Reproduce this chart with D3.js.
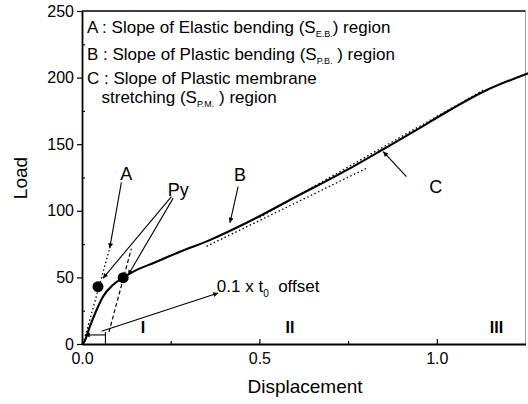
<!DOCTYPE html>
<html>
<head>
<meta charset="utf-8">
<script src="https://cdn.jsdelivr.net/npm/d3@7"></script>
<style>
  body { margin: 0; background: #fff; }
  text { font-family: "Liberation Sans", Arial, sans-serif; fill: #000; }
</style>
</head>
<body>
<svg id="chart" width="528" height="404"></svg>
<script>
// Load-displacement curve
var displacement = [0, 0.005, 0.022, 0.041, 0.059, 0.087, 0.116, 0.153, 0.2, 0.276, 0.36, 0.464, 0.595, 0.755, 0.849, 0.943, 1.037, 1.131, 1.26];
var load         = [0, 1, 13, 25.5, 35.5, 44.3, 49.8, 55.5, 60.6, 69.3, 78, 91, 109.4, 131.9, 146.2, 160.7, 175.7, 189.4, 203.5];

// Yield points (Py)
var yieldX = [0.045, 0.116];
var yieldY = [43, 49.8];

// Slope lines: [x1, y1, x2, y2] in data units
var slopeA      = [0.003, 0, 0.078, 71.8];     // elastic bending, dotted
var offsetLine  = [0.076, 9, 0.139, 71.5];     // 0.1 x t0 offset, dashed
var slopeB      = [0.351, 73.3, 0.807, 132.6]; // plastic bending, dotted
var slopeC      = [0.5, 95, 1.13, 190.5];      // plastic membrane, dotted

var xTicks = [0, 0.5, 1.0];
var xMinor = [0.25, 0.75];
var yTicks = [0, 50, 100, 150, 200, 250];
var yMinor = [25, 75, 125, 175, 225];

var svg = d3.select("#chart");
var margin = { left: 82, top: 11, bottom: 60 };
var W = 528, H = 404;

var x = d3.scaleLinear().domain([0, 1.25]).range([margin.left, 525.5]);
var y = d3.scaleLinear().domain([0, 250]).range([H - margin.bottom, margin.top]);

// Arrow head marker
svg.append("defs").append("marker")
	.attr("id", "head")
	.attr("viewBox", "0 0 10 10")
	.attr("refX", 10).attr("refY", 5)
	.attr("markerWidth", 9).attr("markerHeight", 5)
	.attr("markerUnits", "userSpaceOnUse")
	.attr("orient", "auto")
	.append("path")
	.attr("d", "M0,0L10,5L0,10Z")
	.attr("fill", "#000");

// Frame (top and right)
svg.append("line")
	.attr("x1", x(0)).attr("x2", x(1.25))
	.attr("y1", y(250)).attr("y2", y(250))
	.attr("stroke", "#000").attr("stroke-width", 1.6);
svg.append("line")
	.attr("x1", x(1.25)).attr("x2", x(1.25))
	.attr("y1", y(250)).attr("y2", y(0))
	.attr("stroke", "#888").attr("stroke-width", 0.8);

// Axes
var xAxis = svg.append("g")
	.attr("transform", "translate(0," + y(0) + ")")
	.call(d3.axisBottom(x).tickValues(xTicks).tickFormat(d3.format(".1f"))
		.tickSize(-5).tickSizeOuter(0).tickPadding(9));
svg.append("g")
	.attr("transform", "translate(0," + y(0) + ")")
	.call(d3.axisBottom(x).tickValues(xMinor).tickFormat("").tickSize(-3).tickSizeOuter(0))
	.select(".domain").remove();

var yAxis = svg.append("g")
	.attr("transform", "translate(" + x(0) + ",0)")
	.call(d3.axisLeft(y).tickValues(yTicks).tickSize(5).tickSizeOuter(0).tickPadding(3));
svg.append("g")
	.attr("transform", "translate(" + x(0) + ",0)")
	.call(d3.axisLeft(y).tickValues(yMinor).tickFormat("").tickSize(-3).tickSizeOuter(0))
	.select(".domain").remove();

svg.selectAll(".domain").attr("stroke-width", 1.8);
svg.selectAll(".tick line").attr("stroke-width", 1.2);
svg.selectAll(".tick text")
	.style("font-family", "'Liberation Sans', Arial, sans-serif")
	.style("font-size", "16px");

// Axis titles
svg.append("text")
	.attr("x", 305).attr("y", 393)
	.attr("text-anchor", "middle")
	.style("font-size", "19px")
	.text("Displacement");
svg.append("text")
	.attr("transform", "translate(27,178) rotate(-90)")
	.attr("text-anchor", "middle")
	.style("font-size", "19px")
	.text("Load");

// Slope lines
function segment(s, dash, width) {
	svg.append("line")
		.attr("x1", x(s[0])).attr("y1", y(s[1]))
		.attr("x2", x(s[2])).attr("y2", y(s[3]))
		.attr("stroke", "#000")
		.attr("stroke-width", width)
		.attr("stroke-dasharray", dash);
}
segment(slopeA, "1.5,2.5", 1.3);
segment(offsetLine, "4,2.5", 1.2);
segment(slopeB, "1.5,2.5", 1.3);
segment(slopeC, "1.5,2.5", 1.3);

// Main curve
var pts = displacement.map(function(d, i) { return [d, load[i]]; });
svg.append("path")
	.datum(pts)
	.attr("fill", "none")
	.attr("stroke", "#000")
	.attr("stroke-width", 2.1)
	.attr("d", d3.line()
		.x(function(d) { return x(d[0]); })
		.y(function(d) { return y(d[1]); })
		.curve(d3.curveMonotoneX));

// Yield points
svg.selectAll("circle.py")
	.data(yieldX)
	.enter().append("circle")
	.attr("class", "py")
	.attr("cx", function(d) { return x(d); })
	.attr("cy", function(d, i) { return y(yieldY[i]); })
	.attr("r", 5.5)
	.attr("fill", "#000");

// Annotation arrows: tail -> head, data units
var arrows = [
	[0.111, 121.4, 0.078, 71.8],   // A
	[0.252, 110.7, 0.059, 49.3],   // Py -> first point
	[0.257, 109.5, 0.130, 51.8],   // Py -> second point
	[0.440, 118.2, 0.417, 91],     // B
	[0.9145, 125.6, 0.849, 144.4], // C
	[0.055, 9.5, 0.384, 38.3],     // offset label
	[0.068, 6.8, 0.008, 6.8]       // offset width
];
svg.selectAll("line.arrow")
	.data(arrows)
	.enter().append("line")
	.attr("class", "arrow")
	.attr("x1", function(d) { return x(d[0]); })
	.attr("y1", function(d) { return y(d[1]); })
	.attr("x2", function(d) { return x(d[2]); })
	.attr("y2", function(d) { return y(d[3]); })
	.attr("stroke", "#000")
	.attr("stroke-width", 1.1)
	.attr("marker-end", "url(#head)");

// small end mark of the offset width
svg.append("line")
	.attr("x1", x(0.066)).attr("x2", x(0.066))
	.attr("y1", y(0)).attr("y2", y(9))
	.attr("stroke", "#000").attr("stroke-width", 1.1);

// Letters
var labels = [
	{ t: "A",  x: 0.125, y: 123,   a: "middle" },
	{ t: "B",  x: 0.445, y: 122.4, a: "middle" },
	{ t: "C",  x: 0.997, y: 113.4, a: "middle" },
	{ t: "Py", x: 0.242, y: 111,   a: "start" }
];
svg.selectAll("text.lab")
	.data(labels)
	.enter().append("text")
	.attr("class", "lab")
	.attr("x", function(d) { return x(d.x); })
	.attr("y", function(d) { return y(d.y); })
	.attr("text-anchor", function(d) { return d.a; })
	.style("font-size", "18px")
	.text(function(d) { return d.t; });

// 0.1 x t0 offset
var off = svg.append("text")
	.attr("x", x(0.38)).attr("y", y(39))
	.style("font-size", "17px");
off.append("tspan").text("0.1 x t");
off.append("tspan").attr("dy", 5).style("font-size", "10px").text("0");
off.append("tspan").attr("dy", -5).text("\u00a0 offset");

// Region numbers
var regions = ["I", "II", "III"];
var regionX = [0.172, 0.586, 1.168];
svg.selectAll("text.region")
	.data(regions)
	.enter().append("text")
	.attr("class", "region")
	.attr("x", function(d, i) { return x(regionX[i]); })
	.attr("y", y(8.5))
	.attr("text-anchor", "middle")
	.style("font-size", "16px")
	.style("font-weight", "bold")
	.text(function(d) { return d; });

// Legend text
var legend = [
	{ pre: "A : Slope of Elastic bending (S", sub: "E.B.", post: ") region", indent: 0 },
	{ pre: "B : Slope of Plastic bending (S", sub: "P.B.", post: " ) region", indent: 0 },
	{ pre: "C : Slope of Plastic membrane", sub: "", post: "", indent: 0 },
	{ pre: "stretching (S", sub: "P.M.", post: " ) region", indent: 14.5 }
];
var legendY = [33, 60, 83.5, 103];
legend.forEach(function(l, i) {
	var t = svg.append("text")
		.attr("x", 87 + l.indent)
		.attr("y", legendY[i])
		.style("font-size", "17px");
	t.append("tspan").text(l.pre);
	if (l.sub) {
		t.append("tspan").attr("dy", 4).style("font-size", "9px").text(l.sub);
		t.append("tspan").attr("dy", -4).text(l.post);
	}
});
</script>
</body>
</html>
